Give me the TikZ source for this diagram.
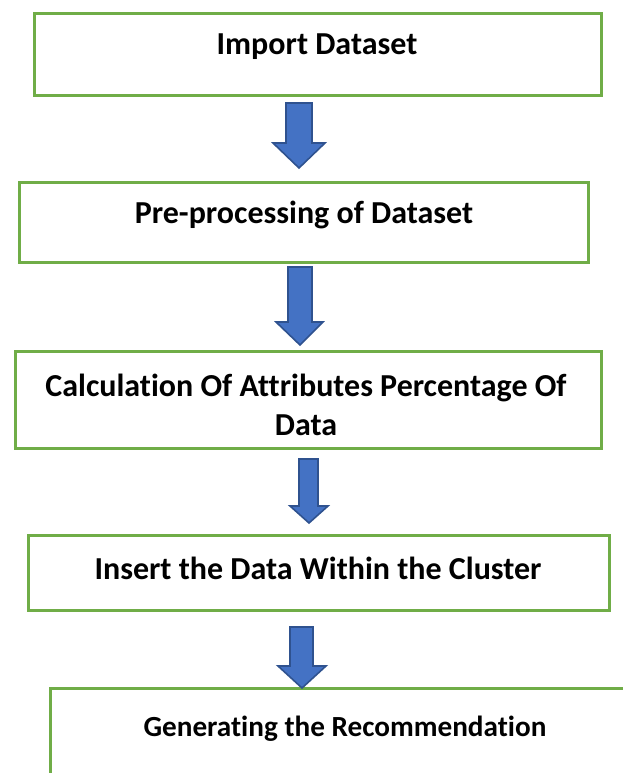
\documentclass[tikz,border=0pt]{standalone}
\usepackage{fontspec}
\setmainfont{Carlito}[Ligatures=NoCommon]
\begin{document}
\begin{tikzpicture}[x=1pt,y=-1pt,
  stepbox/.style={draw=boxgreen,line width=3pt},
  steptext/.style={font=\fontsize{32}{39}\selectfont\bfseries,inner sep=0pt,align=center,anchor=center},
  blockarrow/.style={fill=arrowblue,draw=arrowedge,line width=1.6pt,line join=miter}]
\definecolor{boxgreen}{HTML}{70AD47}
\definecolor{arrowblue}{HTML}{4472C4}
\definecolor{arrowedge}{HTML}{2F528F}
\useasboundingbox (0,0) rectangle (622,773);
% boxes
\draw[stepbox] (34,14) rectangle (601,96);
\draw[stepbox] (19,182) rectangle (588,262);
\draw[stepbox] (15,351) rectangle (601,448);
\draw[stepbox] (28,535) rectangle (609,610);
\draw[stepbox] (50,775) -- (50,688) -- (624,688);
% texts
\node[steptext] (t1) at (317,47) {Import Dataset};
\node[steptext] (t2) at (304,215) {Pre-processing of Dataset};
\node[steptext] (t3) at (306,405) {Calculation Of Attributes Percentage Of\\Data};
\node[steptext] (t4) at (318,568) {Insert the Data Within the Cluster};
\node[steptext,font=\fontsize{29.2}{36}\selectfont\bfseries] (t5) at (345,729) {Generating the Recommendation};
% block arrows
\draw[blockarrow] (286,103) -- (312,103) -- (312,143) -- (325,143) -- (299,168) -- (273,143) -- (286,143) -- cycle;
\draw[blockarrow] (288,267) -- (312,267) -- (312,322) -- (323,322) -- (300,345) -- (276,322) -- (288,322) -- cycle;
\draw[blockarrow] (299,459) -- (318,459) -- (318,506) -- (328,506) -- (309,523) -- (290,506) -- (299,506) -- cycle;
\draw[blockarrow] (290,627) -- (313,627) -- (313,666) -- (326,666) -- (302,688) -- (278,666) -- (290,666) -- cycle;
\end{tikzpicture}
\end{document}
